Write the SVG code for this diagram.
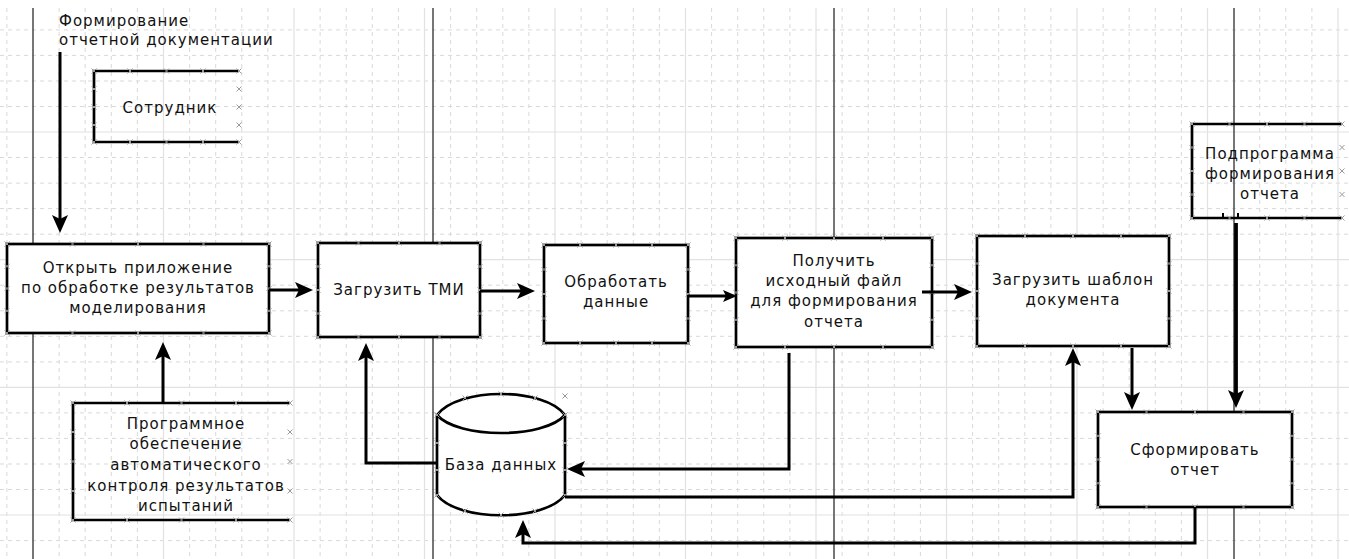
<svg xmlns="http://www.w3.org/2000/svg" xmlns:xlink="http://www.w3.org/1999/xlink" width="1349" height="559" viewBox="0 0 1349 559">
<style>
.gd{fill:none;stroke:#d9d9d9;stroke-width:1;stroke-dasharray:4 4}
.gs{fill:none;stroke:#e2e2e2;stroke-width:1.2}
.lane{fill:none;stroke:#4a4a4a;stroke-width:1.5}
.box{fill:#fff;stroke:#000;stroke-width:2.7}
.open{fill:none;stroke:#000;stroke-width:2.7}
.t{font-family:"DejaVu Sans","Liberation Sans",sans-serif;font-size:15px;letter-spacing:1px;fill:#111;text-anchor:middle}
.tl{text-anchor:start}
.c{fill:none;stroke:#000;stroke-width:3}
.cb{fill:none;stroke:#000;stroke-width:3.8}
</style>
<defs>
<path id="x" d="M-2.5,-2.5L2.5,2.5M-2.5,2.5L2.5,-2.5" stroke="#9a9a9a" stroke-width="1" fill="none"/>
<marker id="ah" markerUnits="userSpaceOnUse" markerWidth="18" markerHeight="16" viewBox="0 0 18 16" refX="12" refY="8" orient="auto"><path d="M0,0L18,8L0,16L4,8Z" fill="#000"/></marker>
<marker id="as" markerUnits="userSpaceOnUse" markerWidth="14" markerHeight="12" viewBox="0 0 14 12" refX="9" refY="6" orient="auto"><path d="M0,0L14,6L0,12L3,6Z" fill="#000"/></marker>
</defs>
<rect width="1349" height="559" fill="#fff"/>
<g id="grid">
<path class="gd" d="M6.9,8V559M59.1,8V559M85.2,8V559M111.3,8V559M137.4,8V559M189.6,8V559M215.7,8V559M241.8,8V559M267.9,8V559M320.1,8V559M346.2,8V559M372.3,8V559M398.4,8V559M450.6,8V559M476.7,8V559M502.8,8V559M528.9,8V559M581.1,8V559M607.2,8V559M633.3,8V559M659.4,8V559M711.6,8V559M737.7,8V559M763.8,8V559M789.9,8V559M842.1,8V559M868.2,8V559M894.3,8V559M920.4,8V559M972.6,8V559M998.7,8V559M1024.8,8V559M1050.9,8V559M1103.1,8V559M1129.2,8V559M1155.3,8V559M1181.4,8V559M1259.7,8V559M1285.8,8V559M1311.9,8V559"/>
<path class="gd" d="M0,29.9H1349M0,55.4H1349M0,81H1349M0,106.5H1349M0,157.5H1349M0,183.1H1349M0,208.6H1349M0,234.2H1349M0,285.2H1349M0,310.8H1349M0,336.3H1349M0,361.9H1349M0,412.9H1349M0,438.4H1349M0,464H1349M0,489.5H1349M0,540.6H1349"/>
<path class="gs" d="M163.5,8V559M294,8V559M424.5,8V559M555,8V559M685.5,8V559M816,8V559M946.5,8V559M1077,8V559M1207.5,8V559M1338,8V559M0,132H1349M0,259.7H1349M0,387.4H1349M0,515H1349"/>
<path class="lane" d="M33,8V559M433,8V559M834,8V559M1234,8V559"/>
</g>
<g id="title">
<text class="t tl" x="59" y="26">Формирование</text>
<text class="t tl" x="59" y="45">отчетной документации</text>
</g>
<g id="employee">
<path class="open" d="M239,71H94V142H239"/>
<text class="t" x="170" y="113">Сотрудник</text>
<g><use href="#x" x="94" y="71"/><use href="#x" x="130" y="71"/><use href="#x" x="166.5" y="71"/><use href="#x" x="203" y="71"/><use href="#x" x="239" y="71"/><use href="#x" x="94" y="142"/><use href="#x" x="130" y="142"/><use href="#x" x="166.5" y="142"/><use href="#x" x="203" y="142"/><use href="#x" x="239" y="142"/><use href="#x" x="94" y="89"/><use href="#x" x="94" y="107"/><use href="#x" x="94" y="125"/><use href="#x" x="239" y="89"/><use href="#x" x="239" y="107"/><use href="#x" x="239" y="125"/></g>
</g>
<g id="software">
<path class="open" d="M290,403H73V520H290"/>
<text class="t" x="186" y="429">Программное</text>
<text class="t" x="186" y="449">обеспечение</text>
<text class="t" x="186" y="470">автоматического</text>
<text class="t" x="186" y="491">контроля результатов</text>
<text class="t" x="186" y="511">испытаний</text>
<g><use href="#x" x="73" y="403"/><use href="#x" x="127" y="403"/><use href="#x" x="181.5" y="403"/><use href="#x" x="236" y="403"/><use href="#x" x="290" y="403"/><use href="#x" x="73" y="520"/><use href="#x" x="127" y="520"/><use href="#x" x="181.5" y="520"/><use href="#x" x="236" y="520"/><use href="#x" x="290" y="520"/><use href="#x" x="73" y="432"/><use href="#x" x="73" y="461.5"/><use href="#x" x="73" y="491"/><use href="#x" x="290" y="432"/><use href="#x" x="290" y="461.5"/><use href="#x" x="290" y="491"/></g>
</g>
<g id="subprogram">
<path class="open" d="M1342,124H1192V218H1342"/>
<text class="t" x="1270" y="159">Подпрограмма</text>
<text class="t" x="1270" y="179">формирования</text>
<text class="t" x="1270" y="199">отчета</text>
<path d="M1223,218V213M1238,218V213" stroke="#000" stroke-width="2"/>
<g><use href="#x" x="1192" y="124"/><use href="#x" x="1229.5" y="124"/><use href="#x" x="1267" y="124"/><use href="#x" x="1304.5" y="124"/><use href="#x" x="1342" y="124"/><use href="#x" x="1192" y="218"/><use href="#x" x="1229.5" y="218"/><use href="#x" x="1267" y="218"/><use href="#x" x="1304.5" y="218"/><use href="#x" x="1342" y="218"/><use href="#x" x="1192" y="147.5"/><use href="#x" x="1192" y="171"/><use href="#x" x="1192" y="194.5"/><use href="#x" x="1342" y="147.5"/><use href="#x" x="1342" y="171"/><use href="#x" x="1342" y="194.5"/></g>
</g>
<g id="open-app">
<rect class="box" x="7" y="244" width="262" height="89"/>
<text class="t" x="138" y="273">Открыть приложение</text>
<text class="t" x="138" y="293">по обработке результатов</text>
<text class="t" x="138" y="313">моделирования</text>
<g><use href="#x" x="7" y="244"/><use href="#x" x="72.5" y="244"/><use href="#x" x="138" y="244"/><use href="#x" x="203.5" y="244"/><use href="#x" x="269" y="244"/><use href="#x" x="7" y="333"/><use href="#x" x="72.5" y="333"/><use href="#x" x="138" y="333"/><use href="#x" x="203.5" y="333"/><use href="#x" x="269" y="333"/><use href="#x" x="7" y="266.3"/><use href="#x" x="7" y="288.5"/><use href="#x" x="7" y="310.8"/><use href="#x" x="269" y="266.3"/><use href="#x" x="269" y="288.5"/><use href="#x" x="269" y="310.8"/></g>
</g>
<g id="load-tmi">
<rect class="box" x="318" y="243" width="162" height="94"/>
<text class="t" x="399" y="295">Загрузить ТМИ</text>
<g><use href="#x" x="318" y="243"/><use href="#x" x="358.5" y="243"/><use href="#x" x="399" y="243"/><use href="#x" x="439.5" y="243"/><use href="#x" x="480" y="243"/><use href="#x" x="318" y="337"/><use href="#x" x="358.5" y="337"/><use href="#x" x="399" y="337"/><use href="#x" x="439.5" y="337"/><use href="#x" x="480" y="337"/><use href="#x" x="318" y="266.5"/><use href="#x" x="318" y="290"/><use href="#x" x="318" y="313.5"/><use href="#x" x="480" y="266.5"/><use href="#x" x="480" y="290"/><use href="#x" x="480" y="313.5"/></g>
</g>
<g id="process">
<rect class="box" x="544" y="245" width="144" height="98"/>
<text class="t" x="616" y="287">Обработать</text>
<text class="t" x="616" y="307">данные</text>
<g><use href="#x" x="544" y="245"/><use href="#x" x="580" y="245"/><use href="#x" x="616" y="245"/><use href="#x" x="652" y="245"/><use href="#x" x="688" y="245"/><use href="#x" x="544" y="343"/><use href="#x" x="580" y="343"/><use href="#x" x="616" y="343"/><use href="#x" x="652" y="343"/><use href="#x" x="688" y="343"/><use href="#x" x="544" y="269.5"/><use href="#x" x="544" y="294"/><use href="#x" x="544" y="318.5"/><use href="#x" x="688" y="269.5"/><use href="#x" x="688" y="294"/><use href="#x" x="688" y="318.5"/></g>
</g>
<g id="get-file">
<rect class="box" x="736" y="238" width="196" height="109"/>
<text class="t" x="834" y="266">Получить</text>
<text class="t" x="834" y="286">исходный файл</text>
<text class="t" x="834" y="306">для формирования</text>
<text class="t" x="834" y="327">отчета</text>
<g><use href="#x" x="736" y="238"/><use href="#x" x="785" y="238"/><use href="#x" x="834" y="238"/><use href="#x" x="883" y="238"/><use href="#x" x="932" y="238"/><use href="#x" x="736" y="347"/><use href="#x" x="785" y="347"/><use href="#x" x="834" y="347"/><use href="#x" x="883" y="347"/><use href="#x" x="932" y="347"/><use href="#x" x="736" y="265.3"/><use href="#x" x="736" y="292.5"/><use href="#x" x="736" y="319.8"/><use href="#x" x="932" y="265.3"/><use href="#x" x="932" y="292.5"/><use href="#x" x="932" y="319.8"/></g>
</g>
<g id="load-template">
<rect class="box" x="977" y="236" width="192" height="110"/>
<text class="t" x="1073" y="285">Загрузить шаблон</text>
<text class="t" x="1073" y="305">документа</text>
<g><use href="#x" x="977" y="236"/><use href="#x" x="1025" y="236"/><use href="#x" x="1073" y="236"/><use href="#x" x="1121" y="236"/><use href="#x" x="1169" y="236"/><use href="#x" x="977" y="346"/><use href="#x" x="1025" y="346"/><use href="#x" x="1073" y="346"/><use href="#x" x="1121" y="346"/><use href="#x" x="1169" y="346"/><use href="#x" x="977" y="263.5"/><use href="#x" x="977" y="291"/><use href="#x" x="977" y="318.5"/><use href="#x" x="1169" y="263.5"/><use href="#x" x="1169" y="291"/><use href="#x" x="1169" y="318.5"/></g>
</g>
<g id="make-report">
<rect class="box" x="1098" y="412" width="194" height="95"/>
<text class="t" x="1195" y="455">Сформировать</text>
<text class="t" x="1195" y="475">отчет</text>
<g><use href="#x" x="1098" y="412"/><use href="#x" x="1146.5" y="412"/><use href="#x" x="1195" y="412"/><use href="#x" x="1243.5" y="412"/><use href="#x" x="1292" y="412"/><use href="#x" x="1098" y="507"/><use href="#x" x="1146.5" y="507"/><use href="#x" x="1195" y="507"/><use href="#x" x="1243.5" y="507"/><use href="#x" x="1292" y="507"/><use href="#x" x="1098" y="435.8"/><use href="#x" x="1098" y="459.5"/><use href="#x" x="1098" y="483.3"/><use href="#x" x="1292" y="435.8"/><use href="#x" x="1292" y="459.5"/><use href="#x" x="1292" y="483.3"/></g>
</g>
<g id="database">
<path d="M437,415C458,387 544,387 565,415V495C544,522 458,522 437,495Z" fill="#fff" stroke="#000" stroke-width="2.7" stroke-linejoin="round"/>
<path d="M437,415C458,439 544,439 565,415" fill="none" stroke="#000" stroke-width="2.7"/>
<text class="t" x="501" y="470">База данных</text>
<g><use href="#x" x="565" y="396"/><use href="#x" x="465" y="398"/><use href="#x" x="501" y="394"/><use href="#x" x="535" y="398"/><use href="#x" x="437" y="415"/><use href="#x" x="437" y="443"/><use href="#x" x="437" y="470"/><use href="#x" x="437" y="495"/><use href="#x" x="565" y="415"/><use href="#x" x="565" y="443"/><use href="#x" x="565" y="470"/><use href="#x" x="565" y="495"/><use href="#x" x="465" y="511"/><use href="#x" x="501" y="515"/><use href="#x" x="535" y="511"/></g>
</g>
<g id="connectors">
<path class="c" d="M60,52V227" marker-end="url(#ah)"/>
<path class="c" d="M269,290H307" marker-end="url(#ah)"/>
<path class="c" d="M163,403V348" marker-end="url(#ah)"/>
<path class="c" d="M437,463H366V349" marker-end="url(#ah)"/>
<path class="c" d="M480,291H529" marker-end="url(#ah)"/>
<path class="c" d="M688,296H732" marker-end="url(#as)"/>
<path class="c" d="M922,292H966" marker-end="url(#ah)"/>
<path class="c" d="M789,353V469H573" marker-end="url(#ah)"/>
<path class="c" d="M565,497H1073V354" marker-end="url(#ah)"/>
<path class="c" d="M1132,348V404" marker-end="url(#ah)"/>
<path class="cb" d="M1236,223V402" marker-end="url(#ah)"/>
<path class="c" d="M1195,507V543H523V526" marker-end="url(#ah)"/>
</g>
</svg>
